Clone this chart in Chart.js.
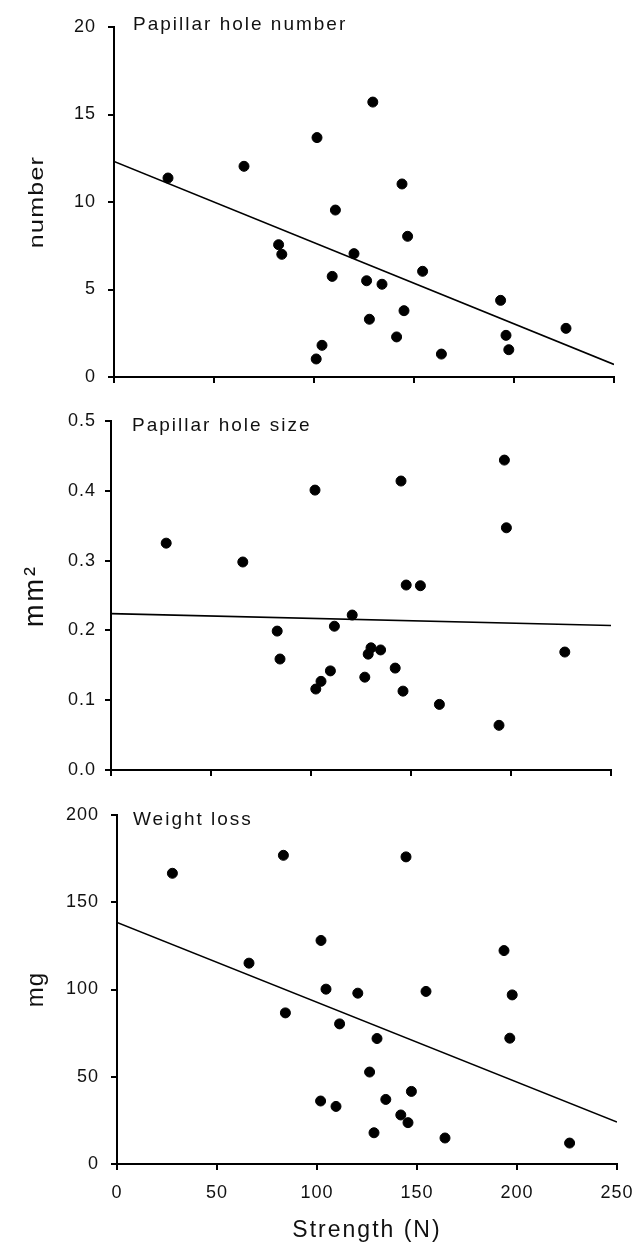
<!DOCTYPE html>
<html>
<head>
<meta charset="utf-8">
<script src="https://cdn.jsdelivr.net/npm/chart.js@4"></script>
<style>
  body { margin: 0; background: #fff; }
  .wrap { position: relative; width: 634px; height: 1243px; }
  canvas { position: absolute; left: 0; }
</style>
</head>
<body>
<div class="wrap">
  <canvas id="numberChart" width="634" height="400" style="top:0px"></canvas>
  <canvas id="sizeChart" width="634" height="400" style="top:400px"></canvas>
  <canvas id="lossChart" width="634" height="443" style="top:800px"></canvas>
</div>
<script>
// Papillar hole number vs strength (N)
const numberStrength = [27, 65, 101.5, 129.4, 144, 110.7, 82.3, 83.9, 120, 146.8, 154.3, 109.1, 126.3, 134, 193.3, 145, 127.7, 141.3, 196, 226, 104, 101.1, 163.7, 197.4];
const numberValues = [11.37, 12.04, 13.68, 15.71, 11.03, 9.54, 7.56, 7.01, 7.05, 8.04, 6.04, 5.75, 5.50, 5.30, 4.38, 3.79, 3.30, 2.29, 2.38, 2.78, 1.81, 1.03, 1.31, 1.56];
const numberFit = [12.32, 0.72];

// Papillar hole size (mm2) vs strength
const sizeStrength = [27.6, 65.9, 102, 145, 196.7, 197.7, 147.6, 154.7, 120.6, 111.7, 83.1, 84.5, 130, 128.6, 134.8, 142.1, 109.7, 126.9, 105, 102.4, 146, 164.2, 194, 226.9];
const sizeValues = [0.325, 0.298, 0.401, 0.414, 0.444, 0.347, 0.265, 0.264, 0.222, 0.206, 0.199, 0.159, 0.175, 0.166, 0.172, 0.146, 0.142, 0.133, 0.127, 0.116, 0.113, 0.094, 0.064, 0.169];
const sizeFit = [0.224, 0.207];

// Weight loss (mg) vs strength
const lossStrength = [27.7, 83.2, 144.5, 102, 193.5, 66, 104.5, 120.4, 154.5, 197.6, 84.2, 111.3, 130, 196.4, 126.3, 147.2, 134.4, 101.8, 109.5, 141.9, 145.5, 128.5, 164, 226.3];
const lossValues = [166.6, 176.9, 176, 128.1, 122.3, 115.1, 100.2, 97.9, 98.9, 96.9, 86.6, 80.3, 71.9, 72.1, 52.7, 41.6, 37, 36.1, 33, 28.1, 23.7, 17.9, 14.9, 12];
const lossFit = [138.4, 24.0];

// x range of the fitted lines
const fitX = [0, 250];

const FONT = '"Liberation Sans", Arial, sans-serif';
const INK = '#111';

// draws the panel heading and axis titles (letter spaced like the original)
const panelText = {
    id: 'panelText',
    beforeLayout(chart) { chart.ctx.letterSpacing = '1px'; },
    beforeDraw(chart) { chart.ctx.letterSpacing = '1px'; },
    afterDraw(chart, args, opts) {
        const ctx = chart.ctx;
        const area = chart.chartArea;
        ctx.save();
        ctx.fillStyle = INK;
        ctx.textBaseline = 'alphabetic';

        ctx.font = '19px ' + FONT;
        ctx.letterSpacing = '2px';
        ctx.textAlign = 'left';
        ctx.fillText(opts.heading, opts.headX, opts.headY);

        ctx.save();
        ctx.translate(43, (area.top + area.bottom) / 2);
        ctx.rotate(-Math.PI / 2);
        ctx.scale(opts.yStretch, 1);
        ctx.font = opts.yFont + 'px ' + FONT;
        ctx.letterSpacing = opts.ySpacing + 'px';
        ctx.textAlign = 'center';
        ctx.fillText(opts.yTitle, 0, 0);
        ctx.restore();

        if (opts.xTitle) {
            ctx.font = '23px ' + FONT;
            ctx.letterSpacing = '2px';
            ctx.textAlign = 'center';
            ctx.fillText(opts.xTitle, (area.left + area.right) / 2, opts.xTitleY);
        }
        ctx.restore();
    }
};

function toPoints(xs, ys) {
    return xs.map((x, i) => ({ x: x, y: ys[i] }));
}

function makePanel(id, p) {
    const ctx = document.getElementById(id).getContext('2d');
    return new Chart(ctx, {
        type: 'scatter',
        data: {
            datasets: [{
                data: toPoints(p.xs, p.ys),
                backgroundColor: '#000',
                borderColor: '#000',
                pointRadius: 5,
                pointHoverRadius: 5
            }, {
                data: toPoints(fitX, p.fit),
                showLine: true,
                borderColor: '#000',
                borderWidth: 1.6,
                pointRadius: 0,
                fill: false
            }]
        },
        options: {
            responsive: false,
            animation: false,
            events: [],
            layout: { padding: { top: p.top, right: p.right, left: 0, bottom: 0 } },
            plugins: {
                legend: { display: false },
                tooltip: { enabled: false },
                panelText: p.text
            },
            scales: {
                x: {
                    type: 'linear',
                    min: 0, max: 250,
                    ticks: {
                        stepSize: 50,
                        display: p.xLabels,
                        color: INK,
                        padding: 12,
                        font: { size: 18, family: FONT }
                    },
                    grid: { display: true, drawOnChartArea: false, drawTicks: true, tickLength: 6, color: '#000', lineWidth: 2 },
                    border: { display: true, color: '#000', width: 2 },
                    afterFit(scale) {
                        scale.height = p.xHeight;
                        scale.paddingLeft = 0;
                        scale.paddingRight = 0;
                    }
                },
                y: {
                    min: 0, max: p.yMax,
                    ticks: {
                        stepSize: p.yStep,
                        color: INK,
                        padding: p.yPad,
                        font: { size: 18, family: FONT },
                        callback: p.yFormat
                    },
                    grid: { display: true, drawOnChartArea: false, drawTicks: true, tickLength: 6, color: '#000', lineWidth: 2 },
                    border: { display: true, color: '#000', width: 2 },
                    afterFit(scale) {
                        scale.width = p.yWidth;
                        scale.paddingTop = 0;
                        scale.paddingBottom = 0;
                    }
                }
            }
        },
        plugins: [panelText]
    });
}

makePanel('numberChart', {
    xs: numberStrength, ys: numberValues, fit: numberFit,
    top: 27, right: 20, yWidth: 114, xHeight: 23, xLabels: false,
    yMax: 20, yStep: 5, yPad: 12, yFormat: v => v.toFixed(0),
    text: { heading: 'Papillar hole number', headX: 133, headY: 30,
            yTitle: 'number', yFont: 20, ySpacing: 1, yStretch: 1.25 }
});

makePanel('sizeChart', {
    xs: sizeStrength, ys: sizeValues, fit: sizeFit,
    top: 21, right: 23, yWidth: 111, xHeight: 30, xLabels: false,
    yMax: 0.5, yStep: 0.1, yPad: 9, yFormat: v => v.toFixed(1),
    text: { heading: 'Papillar hole size', headX: 132, headY: 31,
            yTitle: 'mm²', yFont: 27, ySpacing: 3, yStretch: 1 }
});

makePanel('lossChart', {
    xs: lossStrength, ys: lossValues, fit: lossFit,
    top: 15, right: 17, yWidth: 117, xHeight: 79, xLabels: true,
    yMax: 200, yStep: 50, yPad: 12, yFormat: v => v.toFixed(0),
    text: { heading: 'Weight loss', headX: 133, headY: 25,
            yTitle: 'mg', yFont: 24, ySpacing: 1, yStretch: 1,
            xTitle: 'Strength (N)', xTitleY: 437 }
});
</script>
</body>
</html>
